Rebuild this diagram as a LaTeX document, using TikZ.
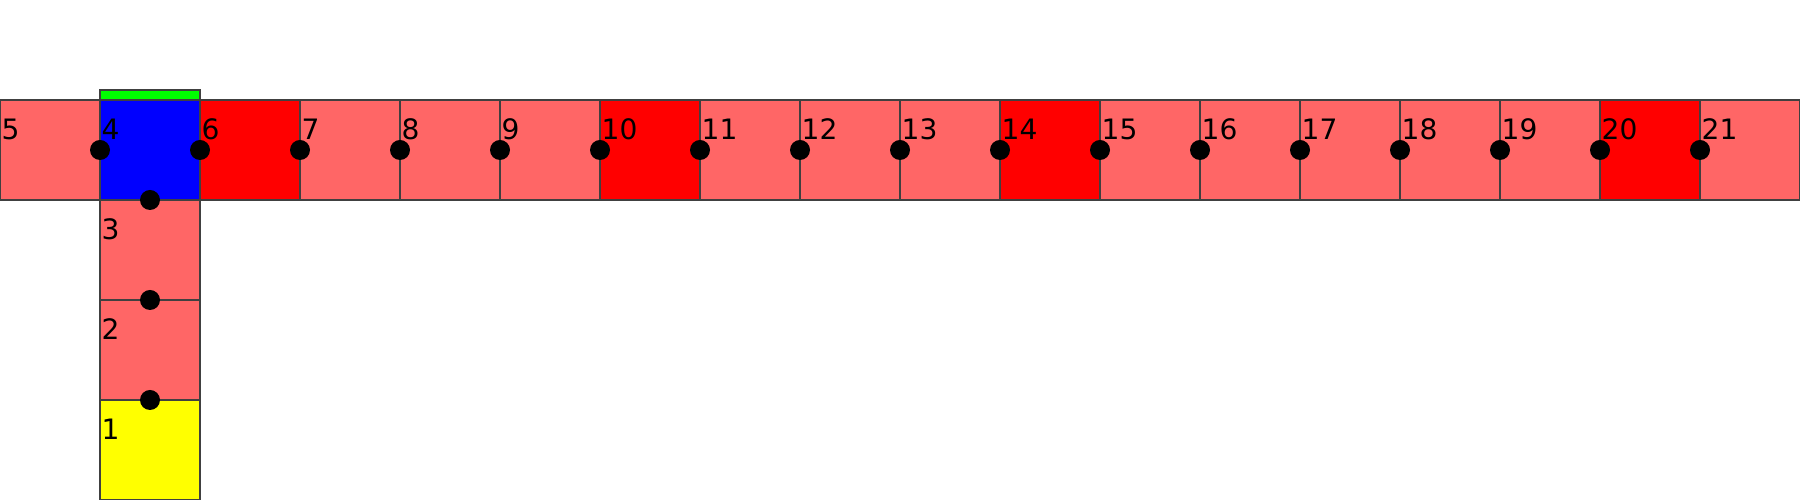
\documentclass[tikz,border=0pt]{standalone}
\usepackage{fontspec}
\setmainfont{DejaVu Sans}
\usetikzlibrary{positioning}

\definecolor{cellpink}{RGB}{255,102,102}
\definecolor{cellred}{RGB}{255,0,0}
\definecolor{cellblue}{RGB}{0,0,255}
\definecolor{cellgreen}{RGB}{0,255,0}
\definecolor{cellyellow}{RGB}{255,255,0}

\tikzset{
  cell/.style={draw=black!75, line width=0.3pt, minimum size=1cm, inner sep=0pt, outer sep=0pt},
  num/.style={anchor=base west, inner sep=0pt, font=\fontsize{8}{9.6}\selectfont},
  pin/.style={circle, fill=black, minimum size=0.2cm, inner sep=0pt}
}

\begin{document}
\begin{tikzpicture}
  \useasboundingbox (0,0) rectangle (18,5);
  % top row of cells
  \foreach \x/\n/\c in {0/5/cellpink, 1/4/cellblue, 2/6/cellred, 3/7/cellpink, 4/8/cellpink,
      5/9/cellpink, 6/10/cellred, 7/11/cellpink, 8/12/cellpink, 9/13/cellpink, 10/14/cellred,
      11/15/cellpink, 12/16/cellpink, 13/17/cellpink, 14/18/cellpink, 15/19/cellpink,
      16/20/cellred, 17/21/cellpink}{
    \node[cell, fill=\c] (c\n) at (\x+0.5,3.5) {};
    \node[num] (t\n) at ([xshift=0.01cm, yshift=-0.4cm]c\n.north west) {\n};
  }
  % column below cell 4
  \foreach \y/\n/\c in {2/3/cellpink, 1/2/cellpink, 0/1/cellyellow}{
    \node[cell, fill=\c] (c\n) at (1.5,\y+0.5) {};
    \node[num] (t\n) at ([xshift=0.01cm, yshift=-0.4cm]c\n.north west) {\n};
  }
  % green strip on top of cell 4
  \node[cell, fill=cellgreen, minimum height=0.1cm, anchor=south] (top) at (c4.north) {};
  % pins on the shared edges
  \foreach \n in {4,6,7,8,9,10,11,12,13,14,15,16,17,18,19,20,21}
    \node[pin] (p\n) at (c\n.west) {};
  \foreach \n in {3,2,1}
    \node[pin] (p\n) at (c\n.north) {};
\end{tikzpicture}
\end{document}
